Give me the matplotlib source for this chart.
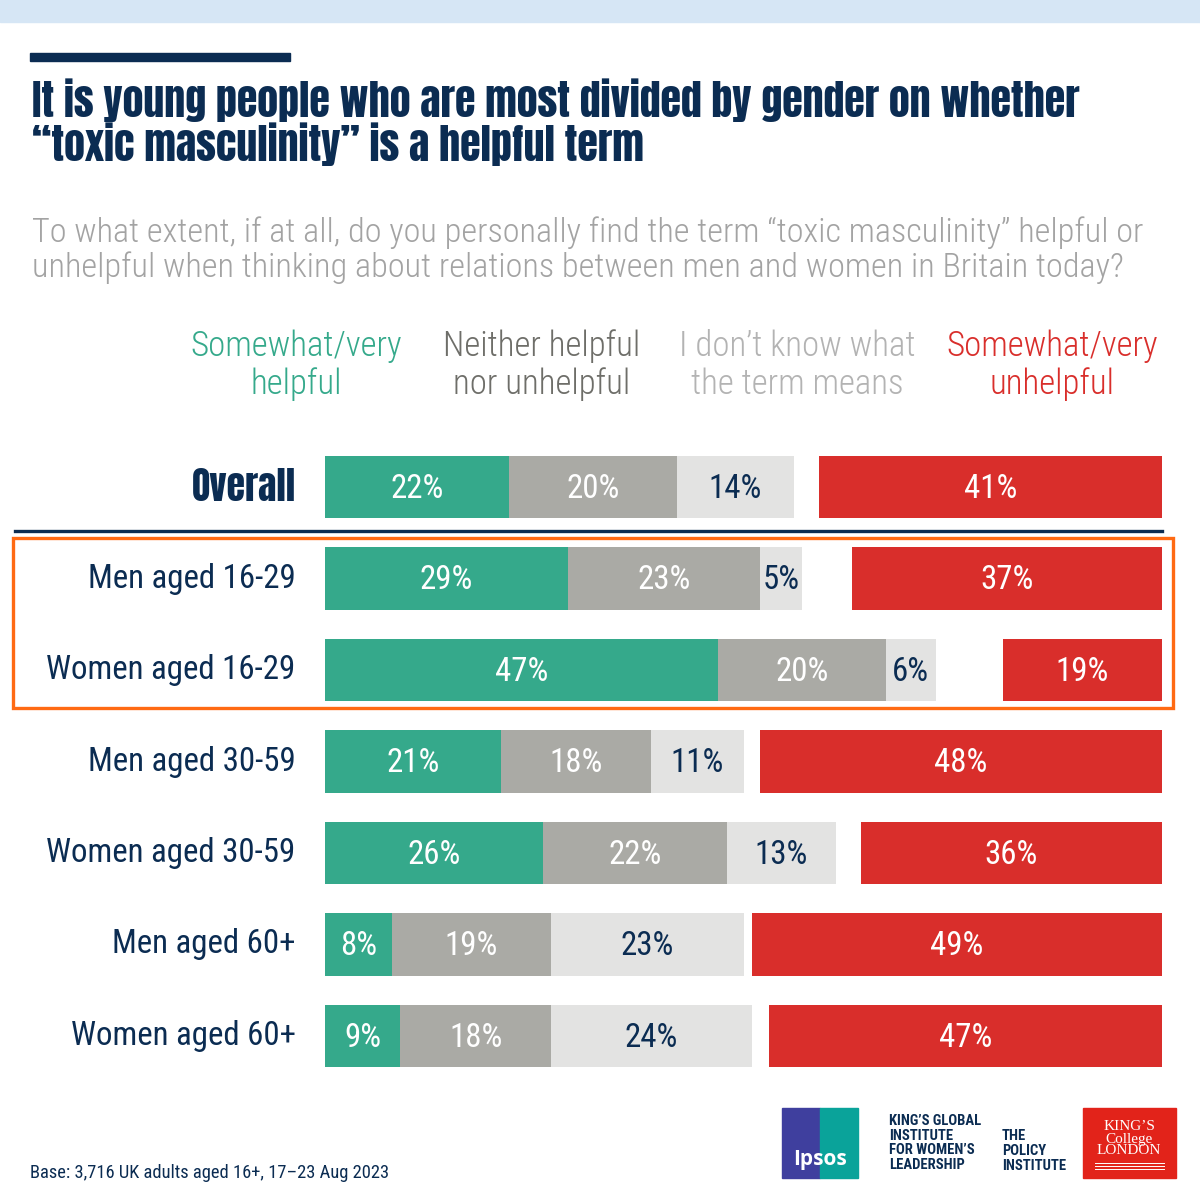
import matplotlib.pyplot as plt
from matplotlib.patches import Rectangle

groups = ["Overall", "Men aged 16-29", "Women aged 16-29", "Men aged 30-59",
          "Women aged 30-59", "Men aged 60+", "Women aged 60+"]
helpful = [22, 29, 47, 21, 26, 8, 9]
neither = [20, 23, 20, 18, 22, 19, 18]
dont_know = [14, 5, 6, 11, 13, 23, 24]
unhelpful = [41, 37, 19, 48, 36, 49, 47]

headers = [("Somewhat/very", "helpful"), ("Neither helpful", "nor unhelpful"),
           ("I don\u2019t know what", "the term means"), ("Somewhat/very", "unhelpful")]
title = ["It is young people who are most divided by gender on whether",
         "\u201ctoxic masculinity\u201d is a helpful term"]
subtitle = ["To what extent, if at all, do you personally find the term \u201ctoxic masculinity\u201d helpful or",
            "unhelpful when thinking about relations between men and women in Britain today?"]

GREEN = "#35a98b"
GREY = "#aaaaa5"
LIGHT = "#e3e3e2"
RED = "#d92e2b"
NAVY = "#0b2c52"
ORANGE = "#ff6a13"

COND = ["Roboto Condensed", "DejaVu Sans"]
HEAVY = ["Anton", "Roboto Condensed", "DejaVu Sans"]
plt.rcParams["font.family"] = COND

W = H = 1200
fig = plt.figure(figsize=(12, 12), dpi=100)
renderer = fig.canvas.get_renderer()


def fx(px):
    return px / W


def fy(py):
    return 1 - py / H


def fit(t, width_px):
    w = t.get_window_extent(renderer).width
    t.set_fontsize(t.get_fontsize() * width_px / w)


# top band and accent bar
fig.patches.append(Rectangle((0, fy(22)), 1, 22 / H, transform=fig.transFigure,
                             color="#d6e6f5", zorder=0))
fig.patches.append(Rectangle((fx(30), fy(61)), 260 / W, 8 / H, transform=fig.transFigure,
                             color=NAVY, zorder=1))

t1 = fig.text(fx(32), fy(117), title[0], fontsize=30, color=NAVY, family=HEAVY, va="baseline")
fit(t1, 1046)
fig.text(fx(32), fy(161), title[1], fontsize=t1.get_fontsize(), color=NAVY, family=HEAVY,
         va="baseline")

s1 = fig.text(fx(32), fy(242), subtitle[0], fontsize=22, color="#a3a3a3", weight=300,
              va="baseline")
fit(s1, 1109)
fig.text(fx(32), fy(277), subtitle[1], fontsize=s1.get_fontsize(), color="#a3a3a3",
         weight=300, va="baseline")

hdr_x = [296, 542, 797, 1052]
hdr_c = [GREEN, "#6e6e69", "#b3b3b3", RED]
h0 = fig.text(fx(hdr_x[0]), fy(356), headers[0][0], fontsize=24, color=hdr_c[0], weight=300,
              ha="center", va="baseline")
fit(h0, 212)
hsize = h0.get_fontsize()
for i, ((a, b), x, c) in enumerate(zip(headers, hdr_x, hdr_c)):
    if i > 0:
        fig.text(fx(x), fy(356), a, fontsize=hsize, color=c, weight=300, ha="center",
                 va="baseline")
    fig.text(fx(x), fy(394), b, fontsize=hsize, color=c, weight=300, ha="center",
             va="baseline")

# bar axes
ax = fig.add_axes([fx(325), fy(1081.75), 837 / W, 640.5 / H])
n = len(groups)
ypos = list(range(n))
bh = 0.68

# row labels, sized from the widest one
lab = ax.text(-3.5, 2, groups[2], ha="right", va="center", color=NAVY, fontsize=26)
fit(lab, 249)
lsize = lab.get_fontsize()
for i, g in enumerate(groups):
    if i == 2:
        continue
    if i == 0:
        o = ax.text(-3.5, i, g, ha="right", va="center", color=NAVY, family=HEAVY,
                    fontsize=24)
        fit(o, 104)
    else:
        ax.text(-3.5, i, g, ha="right", va="center", color=NAVY, fontsize=lsize)

left = [0] * n
for vals, col, tc in [(helpful, GREEN, "white"), (neither, GREY, "white"),
                      (dont_know, LIGHT, NAVY)]:
    bars = ax.barh(ypos, vals, left=left, height=bh, color=col)
    for b, v in zip(bars, vals):
        ax.text(b.get_x() + b.get_width() / 2, b.get_y() + bh / 2 + 0.02, f"{v}%",
                ha="center", va="center", color=tc, fontsize=lsize)
    left = [l + v for l, v in zip(left, vals)]

ub = ax.barh(ypos, unhelpful, left=[100 - v for v in unhelpful], height=bh, color=RED)
for b, v in zip(ub, unhelpful):
    ax.text(b.get_x() + b.get_width() / 2, b.get_y() + bh / 2 + 0.02, f"{v}%",
            ha="center", va="center", color="white", fontsize=lsize)

ax.set_xlim(0, 100)
ax.set_ylim(n - 0.5, -0.5)
ax.axis("off")

# separator and highlight box
fig.add_artist(plt.Line2D([fx(15), fx(1162)], [fy(531), fy(531)], color=NAVY, lw=2.4))
fig.patches.append(Rectangle((fx(13), fy(708)), 1160 / W, 170 / H, transform=fig.transFigure,
                             fill=False, edgecolor=ORANGE, lw=2.4, zorder=5))

ft = fig.text(fx(30), fy(1178), "Base: 3,716 UK adults aged 16+, 17\u201323 Aug 2023",
              fontsize=14, color=NAVY, ha="left", va="baseline")
fit(ft, 362)

# logos
fig.patches.append(Rectangle((fx(782), fy(1178)), 38 / W, 70 / H, transform=fig.transFigure,
                             color="#3f3f9e"))
fig.patches.append(Rectangle((fx(820), fy(1178)), 38 / W, 70 / H, transform=fig.transFigure,
                             color="#0aa39a"))
fig.text(fx(820), fy(1160), "Ipsos", color="white", fontsize=15, ha="center", va="center",
         fontweight="bold", family=["Open Sans", "DejaVu Sans"])
k1 = fig.text(fx(889), fy(1143), "KING\u2019S GLOBAL\nINSTITUTE\nFOR WOMEN\u2019S\nLEADERSHIP",
              fontsize=11, fontweight="bold", color=NAVY, ha="left", va="center",
              linespacing=1.08)
fit(k1, 92)
fig.text(fx(1002), fy(1151), "THE\nPOLICY\nINSTITUTE", fontsize=k1.get_fontsize(),
         fontweight="bold", color=NAVY, ha="left", va="center", linespacing=1.08)
fig.patches.append(Rectangle((fx(1083), fy(1178)), 93 / W, 70 / H, transform=fig.transFigure,
                             color="#e2231a"))
serif = ["Liberation Serif", "DejaVu Serif"]
fig.text(fx(1129), fy(1139), "KING\u2019S\nCollege\nLONDON", fontsize=11, color="white",
         ha="center", va="center", family=serif, linespacing=0.9)
for yy in (1163, 1166, 1169):
    fig.add_artist(plt.Line2D([fx(1095), fx(1164)], [fy(yy), fy(yy)], color="white", lw=0.7))

fig.savefig("out.png", dpi=100, facecolor="white")
